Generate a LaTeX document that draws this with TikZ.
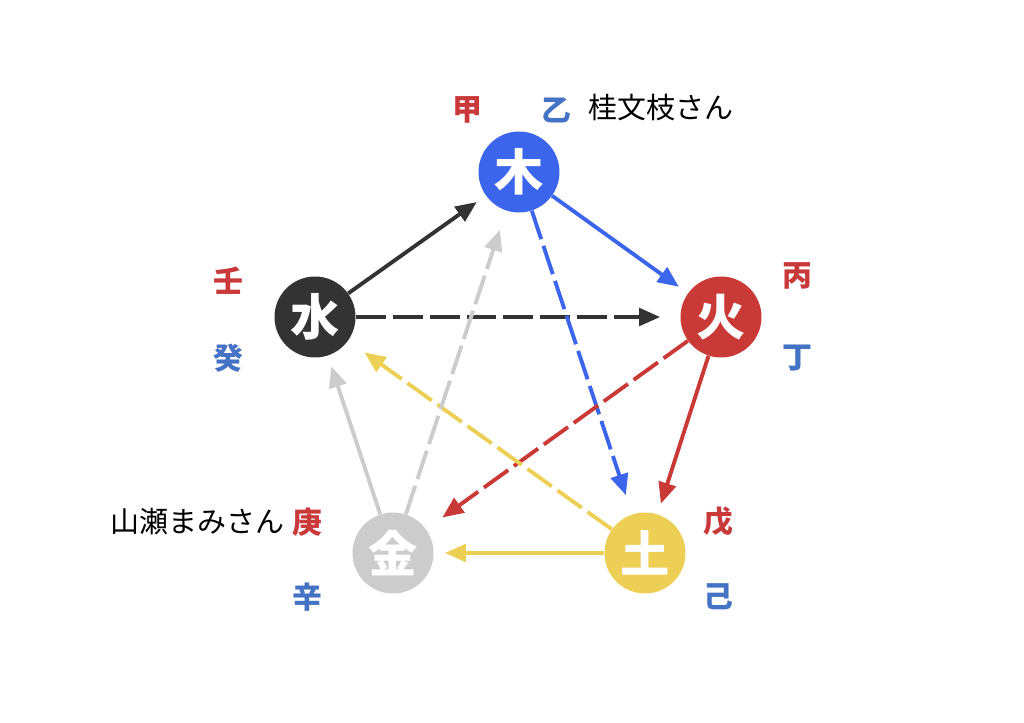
\documentclass[tikz,border=0pt]{standalone}
\usepackage{fontspec}
\newfontfamily\jp{Noto Sans CJK JP}
\usetikzlibrary{arrows.meta}
\definecolor{mokucol}{HTML}{3B66EC}
\definecolor{kacol}{HTML}{C93A36}
\definecolor{docol}{HTML}{EDCF55}
\definecolor{kincol}{HTML}{CCCCCC}
\definecolor{suicol}{HTML}{333333}
\definecolor{inred}{HTML}{C9393A}
\definecolor{inblue}{HTML}{4472C4}
\begin{document}
\begin{tikzpicture}[x=0.02cm,y=-0.02cm,
  elem/.style={circle,minimum size=1.62cm,inner sep=0pt,text=white,font=\jp\bfseries\fontsize{28}{28}\selectfont},
  kan/.style={font=\jp\bfseries\fontsize{17}{17}\selectfont},
  who/.style={font=\jp\fontsize{16.5}{16.5}\selectfont},
  sei/.style={line width=2.2pt,-{Triangle[length=12pt,width=10pt]},shorten >=0.22cm},
  koku/.style={sei,dash pattern=on 17pt off 4pt,shorten >=0.4cm}]
\useasboundingbox (0,0) rectangle (1024,723);
% elements
\node[elem,fill=mokucol] (moku) at (519,172) {木};
\node[elem,fill=kacol] (ka) at (721,317) {火};
\node[elem,fill=docol] (do) at (645,553) {土};
\node[elem,fill=kincol] (kin) at (393,553) {金};
\node[elem,fill=suicol] (sui) at (315,317) {水};
% stems
\node[kan,inred] (kou) at (467,110) {甲};
\node[kan,inblue] (otsu) at (556,110) {乙};
\node[kan,inred] (hei) at (797,276) {丙};
\node[kan,inblue] (tei) at (797,358) {丁};
\node[kan,inred] (bo) at (718,522) {戊};
\node[kan,inblue] (ki) at (718,597) {己};
\node[kan,inred] (kou2) at (307,522) {庚};
\node[kan,inblue] (shin) at (307,597) {辛};
\node[kan,inred] (jin) at (228,281) {壬};
\node[kan,inblue] (ki2) at (228,358) {癸};
% names
\node[who,anchor=west] (bunshi) at (582,108) {桂文枝さん};
\node[who,anchor=east] (mami) at (291,522) {山瀬まみさん};
% generating
\draw[sei,suicol] (sui) -- (moku);
\draw[sei,mokucol] (moku) -- (ka);
\draw[sei,kacol] (ka) -- (do);
\draw[sei,docol] (do) -- (kin);
\draw[sei,kincol] (kin) -- (sui);
% overcoming
\draw[koku,suicol] (sui) -- (ka);
\draw[koku,mokucol] (moku) -- (do);
\draw[koku,kacol] (ka) -- (kin);
\draw[koku,docol] (do) -- (sui);
\draw[koku,kincol] (kin) -- (moku);
\end{tikzpicture}
\end{document}
